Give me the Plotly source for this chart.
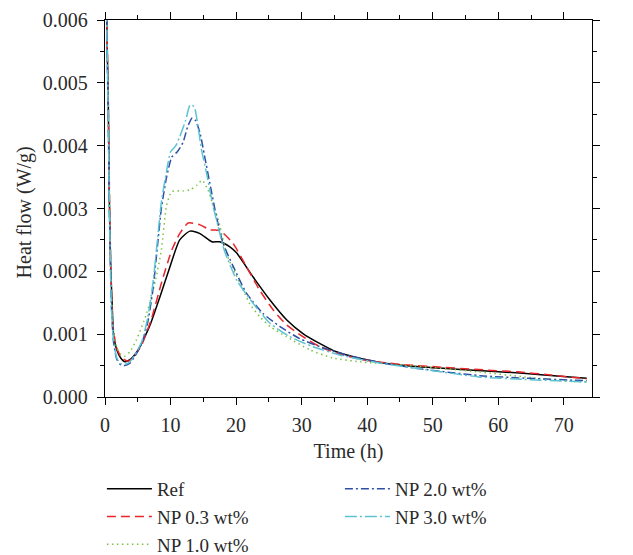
import plotly.graph_objects as go

# ---- data ----
ref_t = [0.15, 0.3, 0.5, 0.66, 0.87, 1.07, 1.3, 1.8, 2.4, 3.05, 4.0, 5.0, 6.0, 7.0, 8.4, 9.9, 11.4, 12.96, 14.5, 16.3, 17.5,
         19.05, 20.1, 22.6, 25.2, 27.7, 30.2, 32.8, 35.3, 37.9, 41.9, 48, 55.6, 63.3, 70.9, 73.5]
ref_v = [0.0068, 0.0058, 0.0047, 0.00314, 0.00207, 0.00154, 0.00101, 0.00075, 0.00062, 0.00056, 0.00061, 0.00074, 0.00094,
         0.00118, 0.0016, 0.00207, 0.0025, 0.00264, 0.0026, 0.00247, 0.00247, 0.00239, 0.00229, 0.00191, 0.00154, 0.00123,
         0.00101, 0.00085, 0.00072, 0.00064, 0.00055, 0.00048, 0.00043, 0.00038, 0.00032, 0.0003]

np03_t = [0.15, 0.3, 0.5, 0.7, 1.0, 1.3, 1.8, 2.5, 3.55, 4.5, 5.6, 7.1, 8.6, 10.2, 11.4, 12.7, 14.5, 16.0, 17.5, 19.5,
          21.6, 23.6, 25.7, 27.7, 30.2, 32.8, 35.3, 38.9, 45, 52, 58, 63, 68, 73.5]
np03_v = [0.0068, 0.0058, 0.0047, 0.0031, 0.0016, 0.00105, 0.00078, 0.00063, 0.00057, 0.00066, 0.00083, 0.00125, 0.00181,
          0.00234, 0.0026, 0.00277, 0.00274, 0.00266, 0.00265, 0.00245, 0.00207, 0.0017, 0.00138, 0.00115, 0.00096,
          0.0008, 0.0007, 0.0006, 0.00052, 0.00047, 0.00043, 0.0004, 0.00035, 0.00029]

np10_t = [0.15, 0.3, 0.5, 0.7, 1.0, 1.3, 1.8, 2.4, 3.0, 3.8, 4.8, 6.35, 7.6, 8.6, 9.4, 10.2, 11.9, 13.0, 14.0, 14.8, 15.7,
          16.5, 17.3, 18.5, 19.5, 21.1, 22.1, 23.6, 25.2, 27.7, 31.25, 34.8, 38.9, 45.4, 52, 57, 64, 70.9, 73.5]
np10_v = [0.0068, 0.0058, 0.0047, 0.0031, 0.0016, 0.00105, 0.00078, 0.00068, 0.00065, 0.00072, 0.00091, 0.00133, 0.00181,
          0.00234, 0.00305, 0.00327, 0.00328, 0.0033, 0.00337, 0.00345, 0.0033, 0.00305, 0.00282, 0.00229, 0.00205,
          0.0017, 0.00148, 0.00128, 0.00112, 0.00096, 0.00075, 0.00062, 0.00056, 0.00051, 0.00045, 0.0004, 0.00032,
          0.00025, 0.00024]

np20_t = [0.15, 0.3, 0.5, 0.7, 1.0, 1.3, 1.8, 2.4, 3.0, 3.7, 4.5, 5.6, 6.5, 7.3, 8.0, 8.6, 9.4, 10.2, 11.0, 11.9, 12.6,
          13.3, 13.8, 14.5, 15.2, 16.0, 17.0, 18.0, 19.6, 21.6, 24.1, 26.7, 29.7, 32.8, 36.8, 41.9, 48, 57.2, 64, 70.9,
          73.5]
np20_v = [0.0068, 0.0057, 0.0044, 0.0028, 0.0014, 0.00088, 0.0006, 0.00051, 0.0005, 0.00053, 0.00064, 0.00085, 0.00118,
          0.0017, 0.0024, 0.003, 0.0035, 0.00382, 0.0039, 0.00405, 0.0043, 0.00444, 0.0044, 0.0042, 0.00383, 0.0034,
          0.00287, 0.00245, 0.00207, 0.00165, 0.00133, 0.00112, 0.00093, 0.0008, 0.00067, 0.00055, 0.00045, 0.00034,
          0.0003, 0.00027, 0.00026]

np30_t = [0.15, 0.3, 0.5, 0.7, 1.0, 1.3, 1.8, 2.4, 3.0, 3.7, 4.5, 5.6, 6.5, 7.3, 8.0, 8.6, 9.4, 10.0, 10.8, 11.4, 12.3,
          13.0, 13.6, 14.2, 14.7, 15.5, 16.5, 17.3, 18.0, 18.5, 20.1, 22.6, 25.2, 28.2, 31.75, 35.8, 41.9, 48, 57, 64,
          70.9, 73.5]
np30_v = [0.0068, 0.0057, 0.0044, 0.0028, 0.0014, 0.0009, 0.00062, 0.00053, 0.00052, 0.00055, 0.00066, 0.00088, 0.00125,
          0.0018, 0.0025, 0.0031, 0.0036, 0.0039, 0.004, 0.00414, 0.0044, 0.00465, 0.00462, 0.0043, 0.00395, 0.00356,
          0.00303, 0.0027, 0.0024, 0.00225, 0.00186, 0.00149, 0.00117, 0.00096, 0.0008, 0.00067, 0.00054, 0.00045,
          0.00032, 0.00028, 0.00025, 0.00024]

x_ticks = [0, 10, 20, 30, 40, 50, 60, 70]
y_ticks = [0.0, 0.001, 0.002, 0.003, 0.004, 0.005, 0.006]

FONT = "Liberation Serif"
TXT = "#2a2a2a"

series = [
    ("Ref", ref_t, ref_v, "#000000", "solid", "legend"),
    ("NP 0.3 wt%", np03_t, np03_v, "#e8262b", "9px,5px", "legend"),
    ("NP 1.0 wt%", np10_t, np10_v, "#7cc242", "1.5px,3.5px", "legend"),
    ("NP 2.0 wt%", np20_t, np20_v, "#2e4fa3", "8px,3px,2px,3px", "legend2"),
    ("NP 3.0 wt%", np30_t, np30_v, "#5cc3d2", "12px,3px,2px,3px", "legend2"),
]

fig = go.Figure()
for name, t, v, color, dash, leg in series:
    fig.add_trace(go.Scatter(
        x=t, y=v, mode="lines", name=name,
        line=dict(color=color, width=1.5, dash=dash, shape="spline", smoothing=0.6),
        legend=leg,
    ))

axis_common = dict(
    showline=True, linecolor="black", linewidth=1.4, mirror="ticks",
    ticks="outside", ticklen=7, tickwidth=1.3, tickcolor="black",
    showgrid=False, zeroline=False,
    tickfont=dict(family=FONT, size=20, color=TXT),
)

fig.update_xaxes(
    range=[0, 74.3], tickvals=x_ticks, ticklabelstandoff=3,
    minor=dict(dtick=5, tick0=0, ticks="outside", ticklen=4, tickwidth=1.1, tickcolor="black"),
    title=dict(text="Time (h)", font=dict(family=FONT, size=20, color=TXT), standoff=8),
    **axis_common,
)
fig.update_yaxes(
    range=[0, 0.006], tickvals=y_ticks, tickformat=".3f", ticklabelstandoff=5,
    minor=dict(dtick=0.0005, tick0=0, ticks="outside", ticklen=4, tickwidth=1.1, tickcolor="black"),
    **axis_common,
)

leg_font = dict(family=FONT, size=19, color=TXT)
fig.update_layout(
    width=633, height=555,
    margin=dict(l=105, r=41, t=20, b=158, autoexpand=False),
    paper_bgcolor="white", plot_bgcolor="white",
    legend=dict(xref="container", yref="container", x=0.161, y=0.1532, xanchor="left", yanchor="top",
                font=leg_font, itemwidth=45, bgcolor="rgba(0,0,0,0)", tracegroupgap=0),
    legend2=dict(xref="container", yref="container", x=0.537, y=0.1532, xanchor="left", yanchor="top",
                 font=leg_font, itemwidth=45, bgcolor="rgba(0,0,0,0)", tracegroupgap=0),
    showlegend=True,
    annotations=[dict(
        text="Heat flow (W/g)", textangle=-90, showarrow=False,
        xref="paper", yref="paper", x=-0.166, y=0.49, xanchor="center", yanchor="middle",
        font=dict(family=FONT, size=20, color=TXT),
    )],
)

fig.write_html("out.html")
